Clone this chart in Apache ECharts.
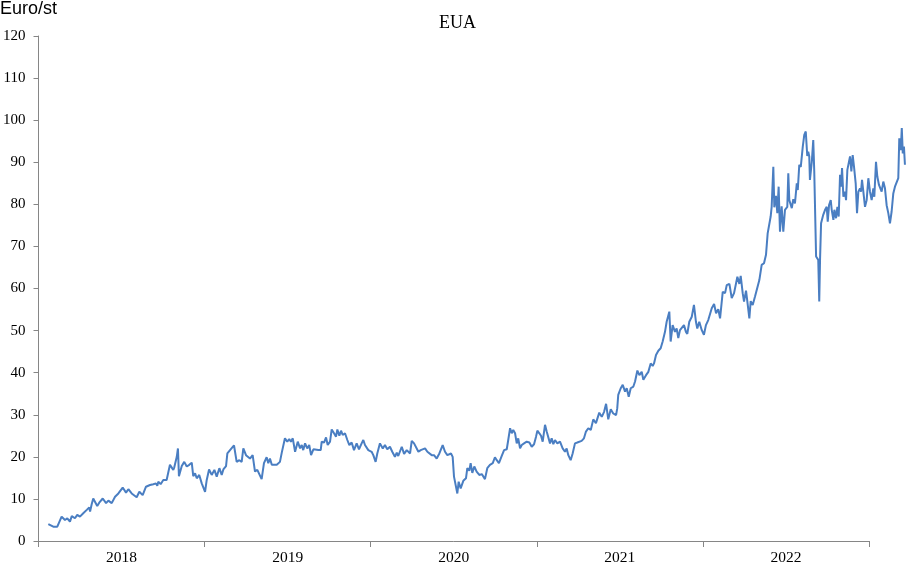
<!DOCTYPE html>
<html>
<head>
<meta charset="utf-8">
<script src="https://cdn.jsdelivr.net/npm/echarts@6/dist/echarts.min.js"></script>
<style>html,body{margin:0;padding:0;background:#fff}#c{width:906px;height:568px}</style>
</head>
<body>
<div id="c"></div>
<script>
// Category labels (one per year band)
var yearLabels = ['2018', '2019', '2020', '2021', '2022'];
// Y axis ticks
var yMin = 0, yMax = 120, yStep = 10;
// Time position, in years since 1 Jan 2018
var t = [
0.068,0.098,0.122,0.148,0.168,0.182,0.198,0.209,0.228,0.242,0.258,0.278,0.299,0.314,0.319,0.329,0.338,0.349,0.362,0.374,
0.395,0.415,0.429,0.449,0.469,0.489,0.515,0.535,0.549,0.569,0.599,0.615,0.635,0.655,0.679,0.699,0.715,0.723,0.729,0.743,
0.759,0.779,0.799,0.819,0.825,0.840,0.847,0.853,0.870,0.885,0.900,0.915,0.930,0.939,0.950,0.960,0.975,0.990,1.010,1.020,
1.034,1.050,1.066,1.080,1.096,1.110,1.120,1.136,1.144,1.160,1.184,1.200,1.216,1.230,1.240,1.256,1.280,1.296,1.310,1.324,
1.336,1.350,1.364,1.380,1.390,1.400,1.411,1.420,1.441,1.460,1.471,1.480,1.490,1.504,1.516,1.526,1.537,1.551,1.567,1.581,
1.591,1.600,1.611,1.624,1.636,1.647,1.661,1.691,1.705,1.711,1.725,1.737,1.747,1.761,1.771,1.785,1.797,1.805,1.817,1.827,
1.837,1.851,1.865,1.877,1.891,1.905,1.921,1.935,1.951,1.961,1.971,1.981,1.991,2.011,2.021,2.035,2.045,2.061,2.078,2.091,
2.105,2.121,2.135,2.151,2.162,2.171,2.192,2.206,2.222,2.242,2.252,2.266,2.278,2.292,2.306,2.318,2.332,2.346,2.358,2.372,
2.386,2.402,2.418,2.438,2.452,2.466,2.478,2.488,2.498,2.506,2.518,2.526,2.534,2.546,2.562,2.578,2.586,2.598,2.606,2.616,
2.628,2.642,2.658,2.673,2.692,2.706,2.722,2.739,2.752,2.763,2.776,2.793,2.807,2.823,2.832,2.843,2.853,2.862,2.873,2.883,
2.892,2.903,2.913,2.927,2.943,2.959,2.973,2.987,2.999,3.007,3.019,3.029,3.039,3.053,3.063,3.073,3.083,3.093,3.103,3.113,
3.127,3.143,3.159,3.173,3.183,3.193,3.207,3.219,3.233,3.247,3.259,3.273,3.287,3.299,3.313,3.328,3.343,3.359,3.379,3.394,
3.408,3.420,3.433,3.448,3.463,3.480,3.487,3.493,3.508,3.520,3.534,3.544,3.556,3.568,3.584,3.594,3.608,3.620,3.634,3.644,
3.660,3.674,3.688,3.700,3.708,3.720,3.734,3.748,3.760,3.774,3.784,3.800,3.808,3.820,3.834,3.844,3.854,3.864,3.874,3.888,
3.900,3.908,3.920,3.935,3.948,3.960,3.968,3.980,3.995,4.008,4.020,4.034,4.055,4.069,4.081,4.094,4.105,4.121,4.135,4.145,
4.161,4.175,4.189,4.201,4.209,4.221,4.229,4.241,4.249,4.261,4.269,4.281,4.289,4.301,4.315,4.325,4.341,4.355,4.369,4.381,
4.391,4.401,4.409,4.415,4.425,4.431,4.441,4.449,4.457,4.465,4.475,4.485,4.495,4.509,4.515,4.521,4.536,4.545,4.555,4.566,
4.572,4.581,4.590,4.602,4.611,4.620,4.629,4.635,4.641,4.645,4.656,4.665,4.671,4.677,4.682,4.695,4.701,4.706,4.712,4.725,
4.736,4.746,4.752,4.760,4.770,4.776,4.786,4.792,4.802,4.810,4.818,4.826,4.832,4.838,4.846,4.856,4.862,4.870,4.878,4.886,
4.894,4.902,4.910,4.920,4.928,4.936,4.946,4.952,4.958,4.966,4.976,4.986,4.996,5.006,5.016,5.026,5.032,5.042,5.050,5.060,
5.070,5.076,5.086,5.096,5.106,5.116,5.126,5.136,5.146,5.156,5.167,5.176,5.182,5.191,5.197,5.203,5.210,5.216
];
// EUA price, Euro/st
var price = [
4.0,3.4,3.4,5.8,5.0,5.4,4.6,5.9,5.4,6.2,5.8,6.6,7.4,8.0,7.0,8.8,10.1,9.7,8.3,9.1,
10.1,9.0,9.6,9.0,10.5,11.3,12.7,11.5,12.3,11.3,10.4,11.7,10.9,12.9,13.3,13.5,13.7,13.1,14.1,13.5,
14.5,14.5,18.1,16.9,17.5,20.0,22.0,15.4,17.8,18.8,17.7,18.1,18.6,15.4,16.1,14.9,15.7,13.7,11.7,14.5,
17.0,15.7,16.9,15.3,17.3,15.7,17.0,17.8,20.8,21.6,22.7,18.8,19.2,18.8,22.0,20.4,19.6,20.4,16.5,16.9,
16.5,14.7,18.5,19.9,18.5,19.6,18.1,17.7,18.1,18.8,21.0,21.2,24.4,23.6,24.2,23.6,24.4,21.2,23.6,22.0,
22.8,21.6,23.2,22.0,22.8,20.4,21.8,21.6,21.6,23.6,23.4,24.6,22.8,23.6,26.5,25.6,24.8,26.5,25.0,26.2,
25.2,25.6,24.0,22.8,23.4,21.6,23.2,21.8,23.2,24.0,22.8,23.2,21.6,21.2,20.4,18.8,20.8,23.2,22.0,22.8,
21.8,22.4,21.2,20.0,21.0,20.2,22.4,20.7,21.6,20.8,23.8,23.2,23.6,21.2,21.6,21.2,22.0,21.2,21.5,20.4,
20.4,19.6,20.8,22.8,21.2,20.4,20.2,20.8,20.0,15.3,14.9,11.3,14.1,12.5,14.3,14.9,17.3,16.7,18.5,16.2,
17.7,16.5,15.7,15.9,14.7,17.3,18.1,18.5,19.9,19.2,18.5,20.2,21.6,21.8,24.0,26.8,25.6,26.4,25.6,23.2,
24.4,22.0,22.8,23.2,23.6,23.4,22.4,23.0,24.8,26.2,25.6,25.0,23.6,27.6,26.0,26.4,23.2,24.4,23.0,24.0,
23.2,23.6,22.0,21.2,22.0,20.4,19.2,20.8,23.2,23.4,23.0,23.8,24.4,26.0,26.8,26.4,28.9,28.0,30.5,29.5,
30.7,32.6,28.9,31.3,30.3,29.9,31.5,34.7,36.3,37.1,35.5,36.3,34.3,36.3,36.7,37.9,40.5,39.4,40.2,38.3,
39.4,40.2,42.2,41.6,42.2,44.2,45.2,45.8,47.4,49.7,52.1,54.5,47.4,51.3,49.7,50.5,48.2,50.1,50.5,51.3,
49.7,49.2,52.1,53.3,56.1,52.1,50.5,52.1,50.1,49.0,51.3,52.5,55.3,56.3,54.1,55.1,52.9,59.2,58.9,60.8,
61.1,57.7,58.9,59.0,62.8,61.1,63.0,58.9,56.9,59.5,56.9,52.9,57.0,56.1,58.1,58.2,62.0,65.6,66.0,68.0,
73.1,72.7,77.1,79.4,88.9,79.3,82.0,77.9,84.2,73.5,79.5,73.5,78.7,79.4,87.4,81.0,79.1,81.2,80.2,85.0,
83.4,89.4,88.9,93.7,96.5,97.3,91.5,92.5,91.4,85.8,90.0,95.3,87.8,87.8,67.6,66.8,56.9,67.2,75.5,77.5,
78.7,79.4,75.9,79.8,81.0,78.7,76.3,78.7,76.7,79.4,77.1,87.0,84.2,88.6,81.8,83.0,81.0,88.2,87.8,91.4,
87.8,91.7,88.9,85.0,77.9,83.0,83.8,83.0,85.8,83.0,79.4,81.0,86.2,83.0,81.0,83.8,81.8,90.1,86.6,84.6,
85.0,83.0,85.4,83.8,79.8,77.9,75.5,78.3,82.6,84.2,83.8,86.2,95.7,92.9,98.1,92.1,93.7,89.4
];

var seriesData = t.map(function (v, i) { return [v, price[i]]; });

// Layout: the axis box covers 5 years; the data runs a little past its right end
var gridLeft = 37, gridTop = 36, gridBottom = 27, yearWidth = 832 / 5;
var tMaxData = 5.22;

var chart = echarts.init(document.getElementById('c'), null, { renderer: 'canvas' });
var serif = '"Liberation Serif", "Times New Roman", serif';
var axisGray = '#868686';
chart.setOption({
  animation: false,
  backgroundColor: '#ffffff',
  title: [
    { text: 'EUA', left: 439, top: 14, padding: 0, textStyle: { fontFamily: serif, fontSize: 18, fontWeight: 'normal', color: '#000' } },
    { text: 'Euro/st', left: 0, top: 0, padding: 0, textStyle: { fontFamily: '"Liberation Sans", Arial, sans-serif', fontSize: 18, fontWeight: 'normal', color: '#000' } }
  ],
  grid: [
    { left: gridLeft, width: yearWidth * 5, top: gridTop, bottom: gridBottom, containLabel: false },
    { left: gridLeft, width: yearWidth * tMaxData, top: gridTop, bottom: gridBottom, containLabel: false }
  ],
  xAxis: [
    {
      type: 'category', gridIndex: 0, data: yearLabels, boundaryGap: true,
      axisLine: { show: true, lineStyle: { color: axisGray, width: 1 } },
      axisTick: { show: true, inside: false, length: 6, lineStyle: { color: axisGray } },
      axisLabel: { fontFamily: serif, fontSize: 15.5, color: '#000', margin: 9 },
      splitLine: { show: false }
    },
    {
      type: 'value', gridIndex: 1, min: 0, max: tMaxData, show: false
    }
  ],
  yAxis: [
    {
      type: 'value', gridIndex: 0, min: yMin, max: yMax, interval: yStep,
      axisLine: { show: true, lineStyle: { color: axisGray, width: 1 } },
      axisTick: { show: true, inside: false, length: 5, lineStyle: { color: axisGray } },
      axisLabel: { fontFamily: serif, fontSize: 15, color: '#000', margin: 13 },
      splitLine: { show: false }
    },
    {
      type: 'value', gridIndex: 1, min: yMin, max: yMax, show: false
    }
  ],
  series: [{
    type: 'line', xAxisIndex: 1, yAxisIndex: 1, data: seriesData,
    showSymbol: false, symbol: 'none', clip: false,
    lineStyle: { color: '#4A7EC2', width: 2 },
    emphasis: { disabled: true }
  }]
});
</script>
</body>
</html>
